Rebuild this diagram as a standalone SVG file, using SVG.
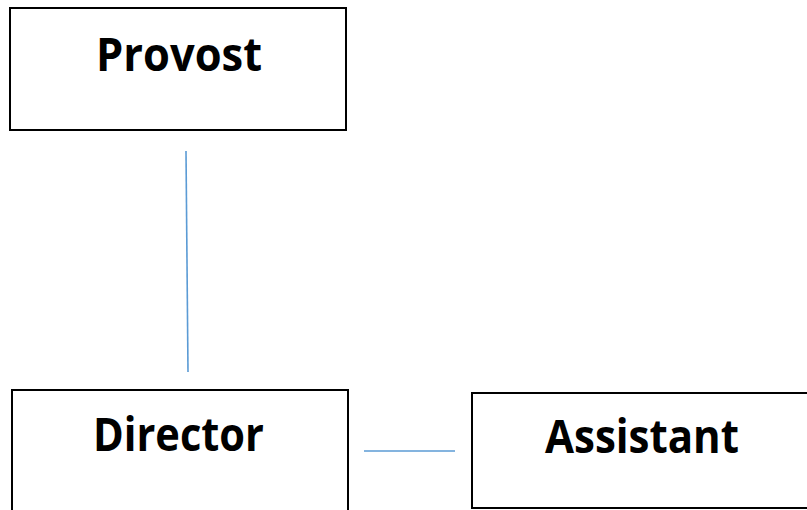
<svg xmlns="http://www.w3.org/2000/svg" width="807" height="510" viewBox="0 0 807 510">
<style>
.box{fill:#ffffff;stroke:#000000;stroke-width:2}
.lbl{font-family:"Open Sans","Liberation Sans",sans-serif;font-weight:bold;font-size:47px;fill:#000000}
.conn{stroke:#5B9BD5;stroke-width:1.6;fill:none}
</style>
<rect width="807" height="510" fill="#ffffff"/>
<g id="connectors">
<line class="conn" x1="186" y1="151" x2="188" y2="372"/>
<line class="conn" x1="364" y1="451" x2="455" y2="451"/>
</g>
<g id="provost">
<rect class="box" x="10" y="8" width="336" height="122"/>
<text class="lbl" x="96" y="71" textLength="166" lengthAdjust="spacingAndGlyphs">Provost</text>
</g>
<g id="director">
<rect class="box" x="12" y="390" width="336" height="130"/>
<text class="lbl" x="93" y="451" textLength="171" lengthAdjust="spacingAndGlyphs">Director</text>
</g>
<g id="assistant">
<rect class="box" x="472" y="393" width="345" height="115"/>
<text class="lbl" x="545" y="453" textLength="194" lengthAdjust="spacingAndGlyphs">Assistant</text>
</g>
</svg>
